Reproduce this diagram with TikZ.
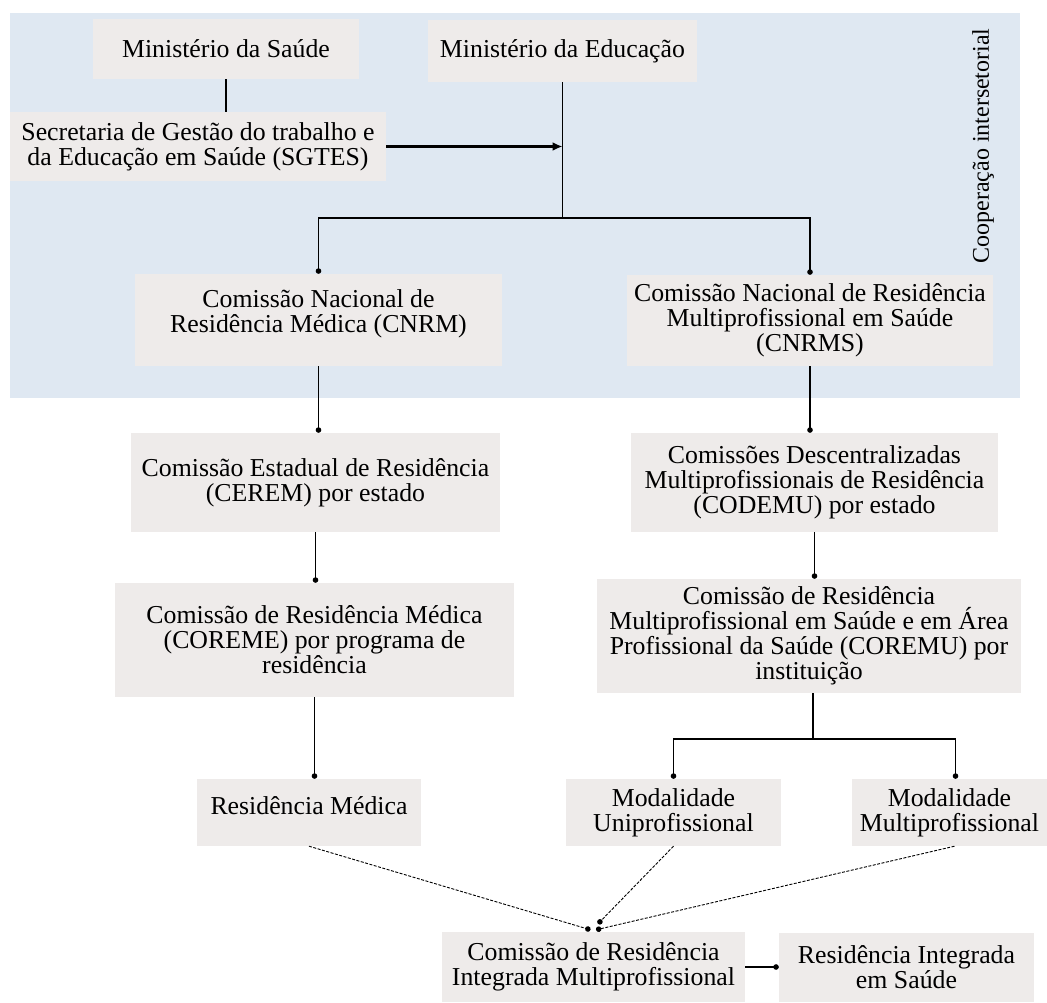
\documentclass[tikz,border=0pt]{standalone}
\usepackage{fontspec}
\setmainfont{Liberation Serif}
\usetikzlibrary{arrows.meta}

\definecolor{coopblue}{RGB}{223,232,242}
\definecolor{boxgray}{RGB}{238,235,234}

\tikzstyle{unit}=[rectangle,
                  fill=boxgray,
                  inner sep=0pt,
                  align=center,
                  font=\fontsize{25.8}{25}\selectfont]
\tikzstyle{link}=[line width=1.1pt]
\tikzstyle{dotlink}=[line width=1.1pt,
                     -{Circle[length=5.5pt]}]
\tikzstyle{elbow}=[to path={-| (\tikztotarget)}]
\tikzstyle{loose}=[line width=0.9pt,
                   dash pattern=on 3pt off 1.5pt,
                   -{Circle[length=5.5pt]}]

\begin{document}
\begin{tikzpicture}[x=1pt,y=-1pt,>=latex]
  \useasboundingbox (0,0) rectangle (1047,1003);

  % Intersectoral cooperation area behind the upper part:
  \fill[coopblue] (10,13) rectangle (1020,398);
  \node (coop) [rotate=90,font=\fontsize{24}{24}\selectfont] at (983,146) {Cooperação intersetorial};

  % The boxes, placed at fixed coordinates:
  \node (saude)  [unit,minimum width=266pt,minimum height=60pt]  at (226,49)      {Ministério da Saúde};
  \node (educ)   [unit,minimum width=269pt,minimum height=62pt]  at (562.5,51)    {Ministério da Educação};
  \node (sgtes)  [unit,minimum width=376pt,minimum height=69pt]  at (198,146.5)   {Secretaria de Gestão do trabalho e\\da Educação em Saúde (SGTES)};
  \node (cnrm)   [unit,minimum width=367pt,minimum height=92pt,text depth=17pt] at (318.5,320) {Comissão Nacional de\\Residência Médica (CNRM)};
  \node (cnrms)  [unit,minimum width=366pt,minimum height=91pt]  at (810,320.5)   {Comissão Nacional de Residência\\Multiprofissional em Saúde\\(CNRMS)};
  \node (cerem)  [unit,minimum width=369pt,minimum height=99pt]  at (315.5,482.5) {Comissão Estadual de Residência\\(CEREM) por estado};
  \node (codemu) [unit,minimum width=367pt,minimum height=99pt]  at (814.5,482.5) {Comissões Descentralizadas\\Multiprofissionais de Residência\\(CODEMU) por estado};
  \node (coreme) [unit,minimum width=399pt,minimum height=114pt] at (314.5,640)   {Comissão de Residência Médica\\(COREME) por programa de\\residência};
  \node (coremu) [unit,minimum width=424pt,minimum height=114pt] at (809,636)     {Comissão de Residência\\Multiprofissional em Saúde e em Área\\Profissional da Saúde (COREMU) por\\instituição};
  \node (resmed) [unit,minimum width=224pt,minimum height=67pt,text depth=13pt] at (309,812.5) {Residência Médica};
  \node (uni)    [unit,minimum width=215pt,minimum height=67pt]  at (673.5,812.5) {Modalidade\\Uniprofissional};
  \node (multi)  [unit,minimum width=195pt,minimum height=67pt]  at (949.5,812.5) {Modalidade\\Multiprofissional};
  \node (crim)   [unit,minimum width=303pt,minimum height=70pt]  at (593.5,967)   {Comissão de Residência\\Integrada Multiprofissional};
  \node (rise)   [unit,minimum width=255pt,minimum height=69pt]  at (906.5,967.5) {Residência Integrada\\em Saúde};

  % Branching points of the connectors:
  \coordinate (split) at (educ.south |- 0,218);
  \coordinate (fork) at (coremu.south |- 0,739);

  % The connectors between the boxes:
  \path[link]
      (saude.south) edge (saude.south |- sgtes.north)
      (educ.south) edge (split)
      ([xshift=4pt]coremu.south) edge ([xshift=4pt]fork);
  \draw[line width=2.6pt,-{Latex[length=10pt,width=9pt]}] (sgtes.east) -- (sgtes.east -| split);
  \path[dotlink]
      (split) edge[elbow] (cnrm.north)
      (split) edge[elbow] (cnrms.north)
      (cnrm.south) edge (cnrm.south |- cerem.north)
      (cnrms.south) edge (cnrms.south |- codemu.north)
      (cerem.south) edge (cerem.south |- coreme.north)
      (codemu.south) edge (codemu.south |- coremu.north)
      (coreme.south) edge (coreme.south |- resmed.north)
      ([xshift=4pt]fork) edge[elbow] (uni.north)
      ([xshift=4pt]fork) edge[elbow] ([xshift=6pt]multi.north)
      (crim.east) edge (crim.east -| rise.west);
  \path[loose]
      (resmed.south) edge ([xshift=-3pt,yshift=2pt]crim.north)
      (uni.south) edge ([xshift=4.5pt,yshift=8pt]crim.north)
      ([xshift=5pt]multi.south) edge ([xshift=2.5pt,yshift=2pt]crim.north);

\end{tikzpicture}
\end{document}
